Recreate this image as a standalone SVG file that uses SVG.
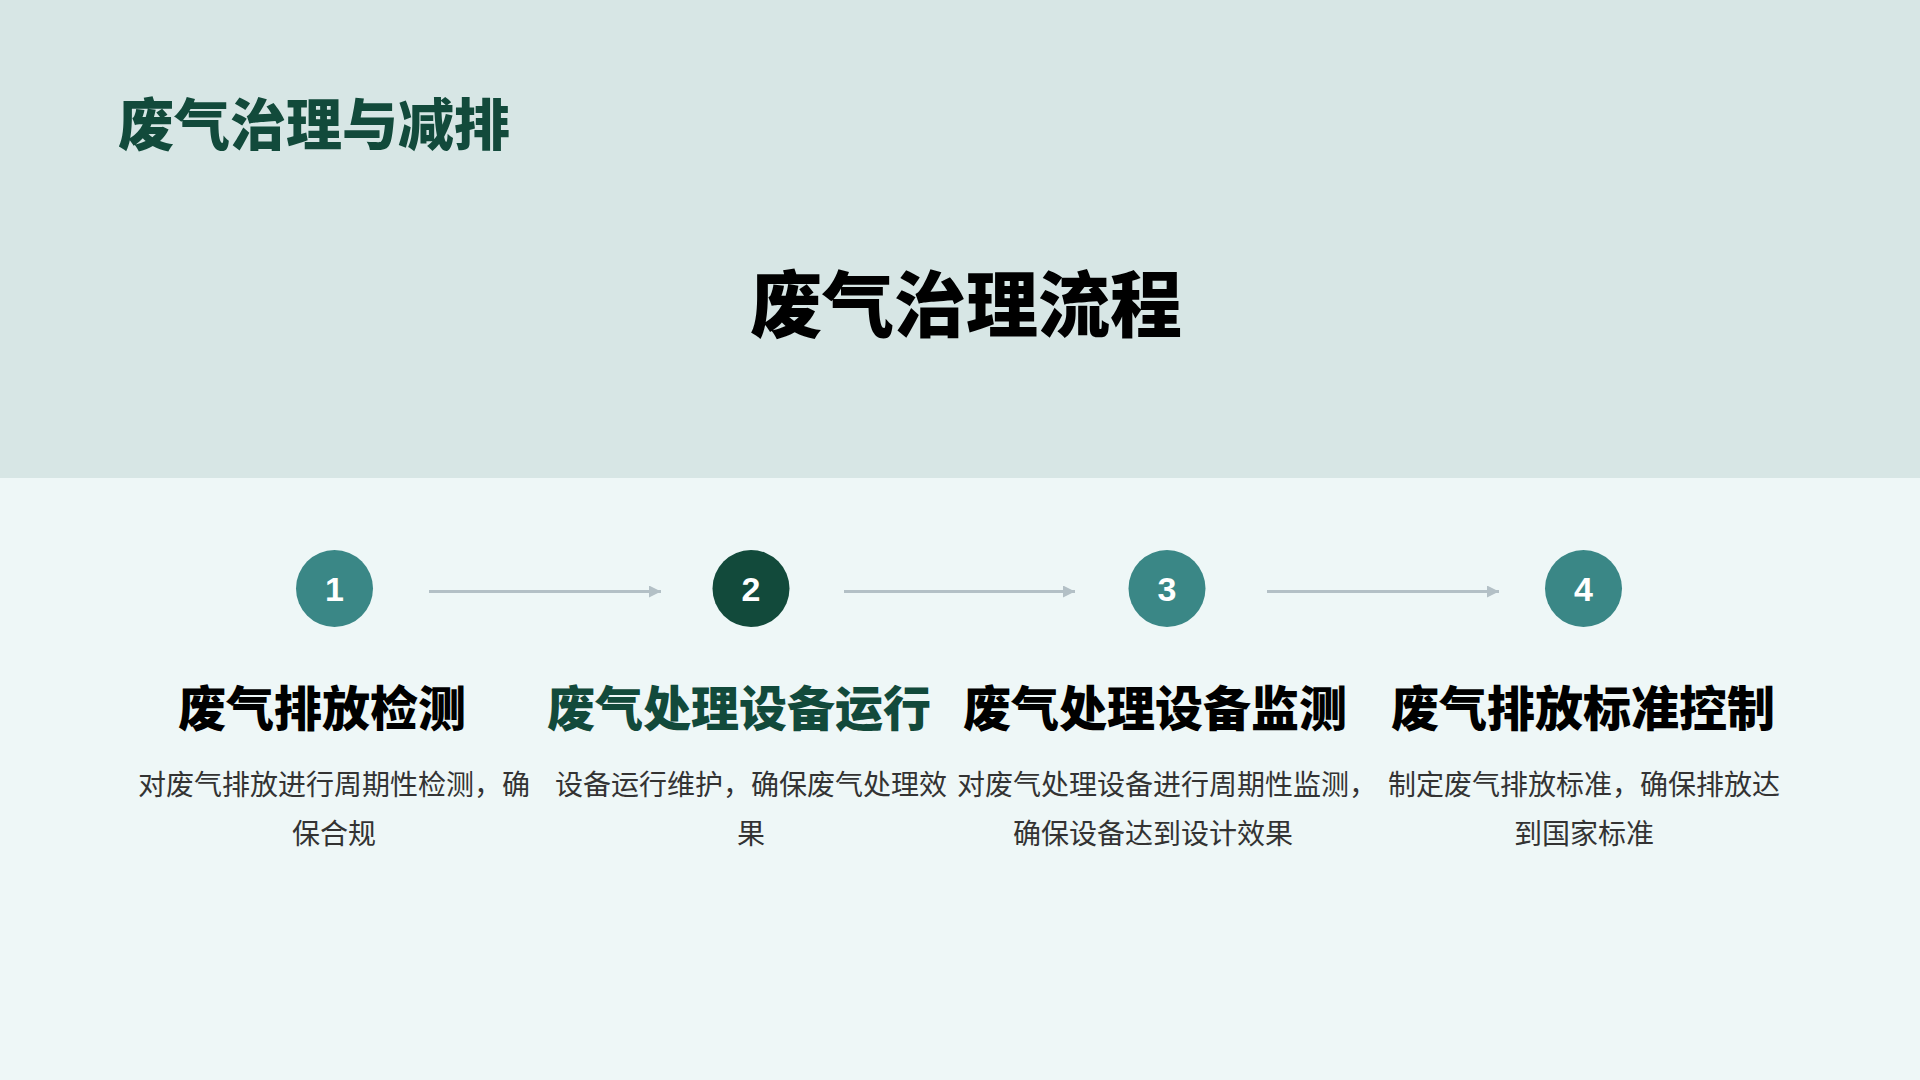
<svg xmlns="http://www.w3.org/2000/svg" width="1920" height="1080" viewBox="0 0 1920 1080">
  <style>
    .cjk { font-family: "Noto Sans CJK SC", "Noto Sans", sans-serif; }
    .h1 { font-size: 56px; font-weight: 900; fill: #124A3B; }
    .h0 { font-size: 72px; font-weight: 900; fill: #000000; }
    .head { font-size: 48px; font-weight: 900; fill: #000000; text-anchor: middle; }
    .head.active { fill: #124A3B; }
    .desc { font-size: 28px; font-weight: 400; fill: #333333; text-anchor: middle; }
    .circ { fill: #3A8786; }
    .circ.active { fill: #124A3B; }
    .num { font-family: "Liberation Sans", Arial, sans-serif; font-size: 34px; font-weight: 700; fill: #FFFFFF; text-anchor: middle; }
    .conn { stroke: #B3C0C6; stroke-width: 3; fill: none; }
    .head-tri { fill: #B3C0C6; }
  </style>
  <defs>
    <marker id="arrow" viewBox="0 0 12 12" refX="12" refY="6" markerWidth="12" markerHeight="12" markerUnits="userSpaceOnUse" orient="auto">
      <path d="M0,0 L12,6 L0,12 Z" class="head-tri"/>
    </marker>
  </defs>

  <rect x="0" y="0" width="1920" height="478" fill="#D7E6E5"/>
  <rect x="0" y="478" width="1920" height="602" fill="#EEF7F7"/>

  <text class="cjk h1" x="118" y="145">废气治理与减排</text>
  <text class="cjk h0" x="966" y="331" text-anchor="middle">废气治理流程</text>

  <g id="connectors">
    <line class="conn" x1="429" y1="591.5" x2="661" y2="591.5" marker-end="url(#arrow)"/>
    <line class="conn" x1="844" y1="591.5" x2="1075" y2="591.5" marker-end="url(#arrow)"/>
    <line class="conn" x1="1267" y1="591.5" x2="1499" y2="591.5" marker-end="url(#arrow)"/>
  </g>

  <g id="step1">
    <circle class="circ" cx="334.5" cy="588.5" r="38.5"/>
    <text class="num" x="334.5" y="601">1</text>
    <text class="cjk head" x="322" y="726">废气排放检测</text>
    <text class="cjk desc" x="334" y="795">对废气排放进行周期性检测，确</text>
    <text class="cjk desc" x="334" y="844">保合规</text>
  </g>

  <g id="step2">
    <circle class="circ active" cx="751" cy="588.5" r="38.5"/>
    <text class="num" x="751" y="601">2</text>
    <text class="cjk head active" x="739" y="726">废气处理设备运行</text>
    <text class="cjk desc" x="751" y="795">设备运行维护，确保废气处理效</text>
    <text class="cjk desc" x="751" y="844">果</text>
  </g>

  <g id="step3">
    <circle class="circ" cx="1167" cy="588.5" r="38.5"/>
    <text class="num" x="1167" y="601">3</text>
    <text class="cjk head" x="1155" y="726">废气处理设备监测</text>
    <text class="cjk desc" x="1167" y="795">对废气处理设备进行周期性监测，</text>
    <text class="cjk desc" x="1153" y="844">确保设备达到设计效果</text>
  </g>

  <g id="step4">
    <circle class="circ" cx="1583.5" cy="588.5" r="38.5"/>
    <text class="num" x="1583.5" y="601">4</text>
    <text class="cjk head" x="1583" y="726">废气排放标准控制</text>
    <text class="cjk desc" x="1584" y="795">制定废气排放标准，确保排放达</text>
    <text class="cjk desc" x="1584" y="844">到国家标准</text>
  </g>
</svg>
